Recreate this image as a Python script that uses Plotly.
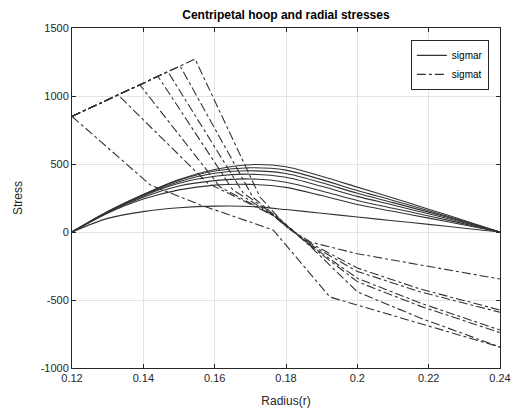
import plotly.graph_objects as go

# ---- data ----
r_grid = [0.12, 0.13, 0.14, 0.15, 0.16, 0.17, 0.18, 0.19, 0.20, 0.21, 0.22, 0.23, 0.24]

sigmar_1 = [0, 150, 275, 385, 460, 495, 480, 410, 330, 250, 168, 85, 0]
sigmar_2 = [0, 150, 275, 380, 448, 472, 455, 385, 305, 232, 156, 79, 0]
sigmar_3 = [0, 148, 270, 370, 432, 450, 430, 362, 285, 216, 146, 74, 0]
sigmar_4 = [0, 146, 265, 358, 410, 425, 402, 336, 262, 198, 134, 68, 0]
sigmar_5 = [0, 143, 255, 338, 378, 390, 366, 302, 232, 175, 118, 60, 0]
sigmar_6 = [0, 138, 242, 310, 345, 350, 328, 268, 202, 152, 102, 52, 0]
sigmar_7 = [0, 100, 150, 178, 190, 188, 165, 138, 110, 83, 56, 28, 0]
sigmar_all = [sigmar_1, sigmar_2, sigmar_3, sigmar_4, sigmar_5, sigmar_6, sigmar_7]

sigmat_r1 = [0.12, 0.142, 0.156, 0.1764, 0.1923, 0.24]
sigmat_v1 = [850, 345, 199, 15, -478, -846]
sigmat_r2 = [0.12, 0.1329, 0.158, 0.1765, 0.181, 0.187, 0.20, 0.2176, 0.24]
sigmat_v2 = [850, 1008, 360, 120, 20, -75, -160, -243, -346]
sigmat_r3 = [0.12, 0.139, 0.1615, 0.1765, 0.181, 0.187, 0.20, 0.2176, 0.24]
sigmat_v3 = [850, 1083, 331, 120, 20, -85, -265, -419, -574]
sigmat_r4 = [0.12, 0.1441, 0.1651, 0.177, 0.181, 0.187, 0.20, 0.2176, 0.24]
sigmat_v4 = [850, 1145, 309, 115, 25, -95, -290, -440, -590]
sigmat_r5 = [0.12, 0.1469, 0.168, 0.1775, 0.1815, 0.187, 0.20, 0.2176, 0.24]
sigmat_v5 = [850, 1179, 287, 110, 20, -100, -340, -522, -721]
sigmat_r6 = [0.12, 0.1503, 0.1707, 0.178, 0.182, 0.187, 0.20, 0.2176, 0.24]
sigmat_v6 = [850, 1221, 257, 100, 10, -105, -365, -545, -740]
sigmat_r7 = [0.12, 0.1545, 0.1727, 0.1785, 0.182, 0.187, 0.20, 0.2176, 0.24]
sigmat_v7 = [850, 1272, 257, 90, 5, -110, -440, -632, -846]
sigmat_all = [(sigmat_r1, sigmat_v1), (sigmat_r2, sigmat_v2), (sigmat_r3, sigmat_v3),
              (sigmat_r4, sigmat_v4), (sigmat_r5, sigmat_v5), (sigmat_r6, sigmat_v6),
              (sigmat_r7, sigmat_v7)]

x_ticks = [0.12, 0.14, 0.16, 0.18, 0.2, 0.22, 0.24]
x_labels = ["0.12", "0.14", "0.16", "0.18", "0.2", "0.22", "0.24"]
y_ticks = [-1000, -500, 0, 500, 1000, 1500]
y_labels = ["-1000", "-500", "0", "500", "1000", "1500"]

FONT = "Liberation Sans, Arial, Helvetica, sans-serif"
LINE = "#333333"

fig = go.Figure()
for i, v in enumerate(sigmar_all):
    fig.add_trace(go.Scatter(
        x=r_grid, y=v, mode="lines", name="sigmar",
        line=dict(color=LINE, width=1.1, shape="spline", smoothing=0.8),
        showlegend=(i == 0), legendgroup="r"))
for i, (rr, vv) in enumerate(sigmat_all):
    fig.add_trace(go.Scatter(
        x=rr, y=vv, mode="lines", name="sigmat",
        line=dict(color=LINE, width=1.1, dash="dashdot"),
        showlegend=(i == 0), legendgroup="t"))

axis_common = dict(
    showgrid=True, gridcolor="#e3e3e3", gridwidth=1,
    zeroline=False, showline=True, linecolor="#262626", linewidth=1,
    mirror="ticks", ticks="inside", ticklen=4, tickcolor="#262626",
    tickfont=dict(family=FONT, size=11, color="#262626"),
)

fig.update_layout(
    width=518, height=408,
    margin=dict(l=72, r=18, t=28, b=40),
    paper_bgcolor="white", plot_bgcolor="white",
    title=dict(text="<b>Centripetal hoop and radial stresses</b>",
               font=dict(family=FONT, size=12, color="#000000"),
               x=0.5520, xanchor="center", y=0.975, yanchor="top"),
    xaxis=dict(range=[0.12, 0.24], tickvals=x_ticks, ticktext=x_labels,
               automargin=False,
               title=dict(text="Radius(r)", font=dict(family=FONT, size=12, color="#262626")),
               **axis_common),
    yaxis=dict(range=[-1000, 1500], tickvals=y_ticks, ticktext=y_labels,
               automargin=False,
               title=dict(text="Stress", font=dict(family=FONT, size=12, color="#262626")),
               **axis_common),
    legend=dict(x=0.974, y=0.965, xanchor="right", yanchor="top",
                bgcolor="white", bordercolor="#262626", borderwidth=1,
                font=dict(family=FONT, size=10, color="#000000"),
                tracegroupgap=0, itemwidth=30),
    showlegend=True,
)

fig.write_html("out.html")
